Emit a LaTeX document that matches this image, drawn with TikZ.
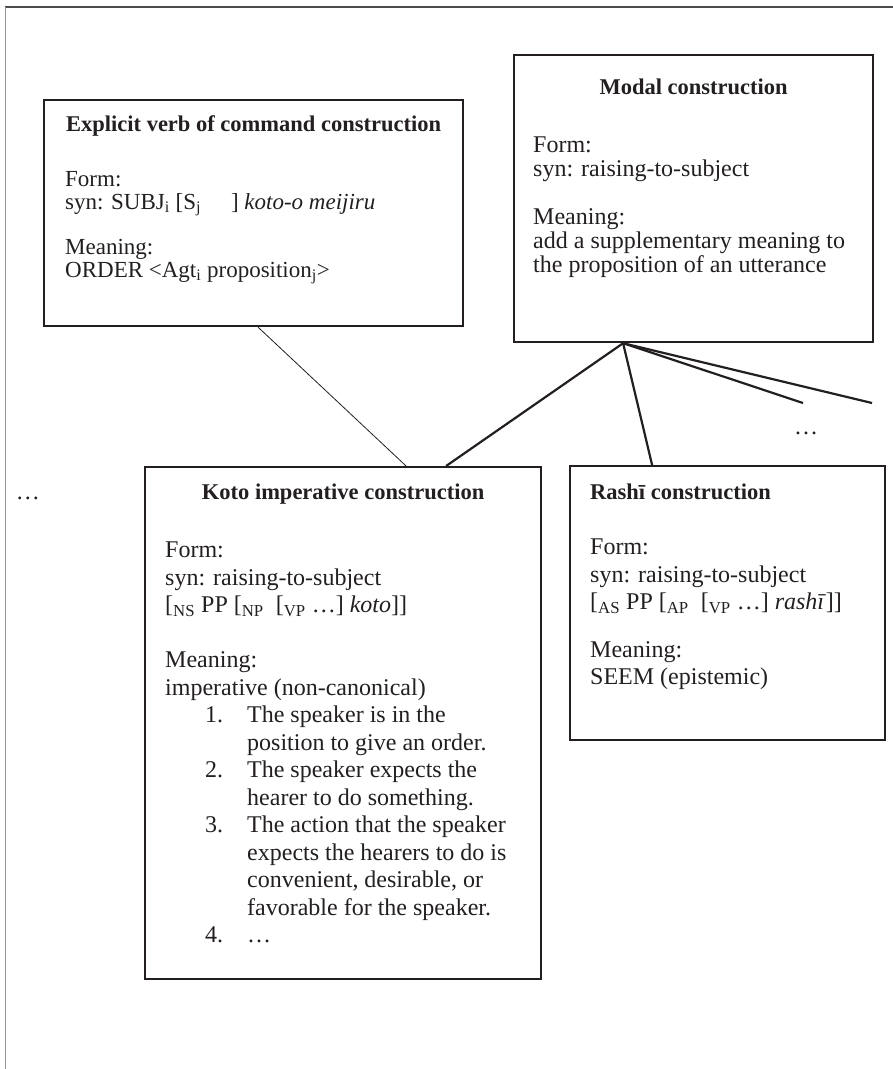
\documentclass[tikz,border=0pt]{standalone}
\usepackage{fontspec}
\setmainfont{Liberation Serif}
\usetikzlibrary{positioning,calc}
\definecolor{boxline}{RGB}{35,31,32}
\definecolor{framegray}{RGB}{150,150,150}
\tikzset{
    cbox/.style={rectangle, draw=boxline, line width=2.2pt, anchor=north west, inner sep=0pt},
    ctitle/.style={font=\fontsize{22.5}{27}\selectfont\bfseries, inner sep=0pt, text=boxline},
    cbody/.style={font=\fontsize{24}{27.5}\selectfont, align=left, inner sep=0pt, text=boxline},
    strong link/.style={line width=2.2pt, draw=boxline},
    weak link/.style={line width=0.8pt, draw=boxline},
    frame line/.style={line width=1pt, draw=framegray},
    frame top/.style={line width=1.4pt, draw=black!70},
    more dots/.style={font=\fontsize{24}{27.5}\selectfont, inner sep=0pt, text=boxline}
}
\newcommand{\itemnum}[1]{\hspace*{40pt}\makebox[42pt][l]{#1}}
\newcommand{\itemcont}{\hspace*{82pt}}

\begin{document}
\begin{tikzpicture}[x=1pt, y=-1pt]
    \useasboundingbox (0,0) rectangle (893,1069);
    % page frame
    \draw[frame top] (893,7) -- (5,7);
    \draw[frame line] (5,7) -- (5,1069);

    % Upper constructions
    \node[cbox, minimum width=419pt, minimum height=226pt] (explicit) at (43,99) {};
    \node[ctitle, below=16pt of explicit.north] (explicit title) {Explicit verb of command construction};
    \node[cbody, font=\fontsize{23}{23}\selectfont, below right=72pt and 22pt of explicit.north west] (explicit body)
        {Form:\\
         syn: SUBJ\textsubscript{i} [S\textsubscript{j}\hspace{30pt}] \textit{koto-o meijiru}\\[22pt]
         Meaning:\\
         ORDER <Agt\textsubscript{i} proposition\textsubscript{j}>};

    \node[cbox, minimum width=359pt, minimum height=287pt] (modal) at (513,54) {};
    \node[ctitle, below=25pt of modal.north] (modal title) {Modal construction};
    \node[cbody, font=\fontsize{24}{24}\selectfont, below right=83pt and 20pt of modal.north west] (modal body)
        {Form:\\
         syn: raising-to-subject\\[24pt]
         Meaning:\\
         add a supplementary meaning to\\
         the proposition of an utterance};

    % Lower constructions
    \node[cbox, minimum width=396pt, minimum height=512pt] (koto) at (144,466) {};
    \node[ctitle, below=18pt of koto.north] (koto title) {Koto imperative construction};
    \node[cbody, below right=76pt and 21pt of koto.north west] (koto body)
        {Form:\\
         syn: raising-to-subject\\
         {[}\textsubscript{NS} PP [\textsubscript{NP}\ \ [\textsubscript{VP} …] \textit{koto}]]\\[27.5pt]
         Meaning:\\
         imperative (non-canonical)\\
         \itemnum{1.}The speaker is in the\\
         \itemcont position to give an order.\\
         \itemnum{2.}The speaker expects the\\
         \itemcont hearer to do something.\\
         \itemnum{3.}The action that the speaker\\
         \itemcont expects the hearers to do is\\
         \itemcont convenient, desirable, or\\
         \itemcont favorable for the speaker.\\
         \itemnum{4.}…};

    \node[cbox, minimum width=315pt, minimum height=274pt] (rashi) at (569,465) {};
    \node[ctitle, below right=19pt and 21pt of rashi.north west] (rashi title) {Rashī construction};
    \node[cbody, below right=74pt and 21pt of rashi.north west] (rashi body)
        {Form:\\
         syn: raising-to-subject\\
         {[}\textsubscript{AS} PP [\textsubscript{AP}\ \ [\textsubscript{VP} …] \textit{rashī}]]\\[20pt]
         Meaning:\\
         SEEM (epistemic)};

    % Links
    \coordinate (apex) at ($(modal.south)+(-70.5,0)$);
    \coordinate (more a) at (803,403);
    \coordinate (more b) at (872,403);
    \draw[weak link] ($(explicit.south)+(4.5,0)$) -- ($(koto.north)+(63,0)$);
    \draw[strong link] (apex) -- ($(koto.north)+(103,0)$);
    \draw[strong link] (apex) -- ($(rashi.north)+(-75.5,0)$);
    \draw[strong link] (apex) -- (more a);
    \draw[strong link] (apex) -- (more b);

    \node[more dots] (dots right) at (806,433) {…};
    \node[more dots] (dots left) at (28,498) {…};
\end{tikzpicture}
\end{document}
